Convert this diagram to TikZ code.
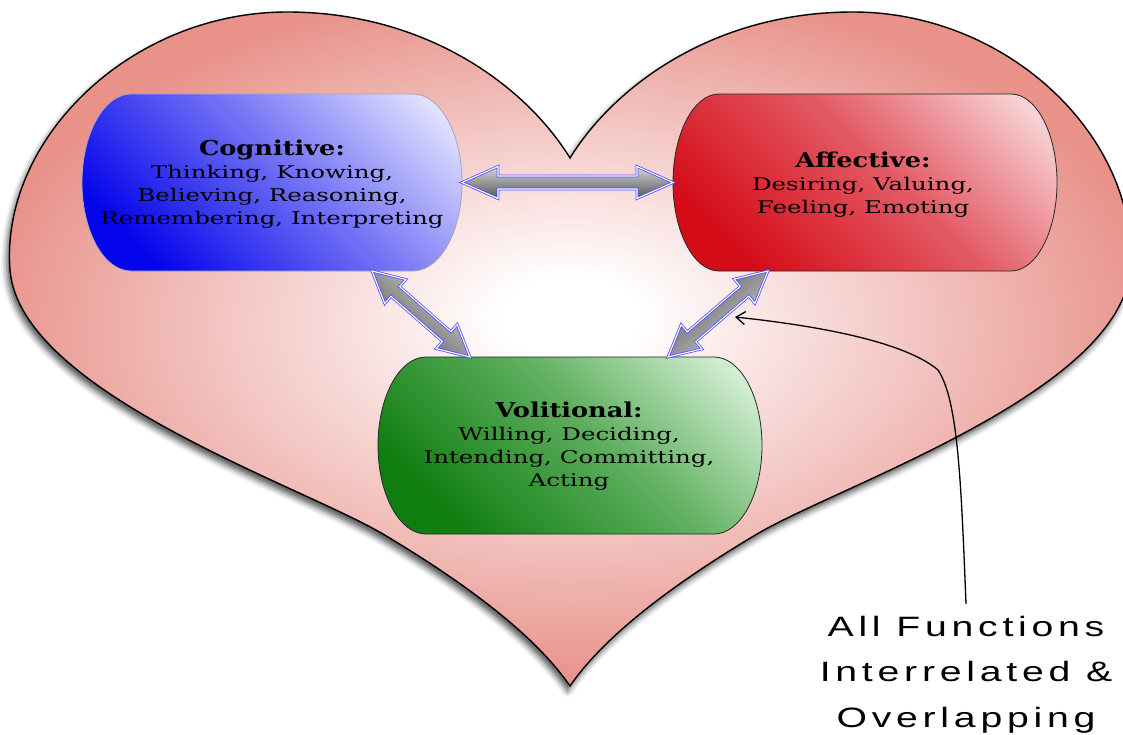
\documentclass[tikz,border=0pt]{standalone}
\usepackage{fontspec}
\newfontfamily\bodyfont[FakeStretch=1.4]{DejaVu Serif}
\newfontfamily\headfont[FakeStretch=1.25]{DejaVu Serif}
\newfontfamily\notefont[FakeStretch=1.4,LetterSpace=17]{Liberation Sans}
\usetikzlibrary{shadows.blur,arrows.meta,calc}
\definecolor{heartc}{RGB}{232,146,138}
\definecolor{heartmid}{RGB}{243,198,195}
\definecolor{cogdark}{RGB}{5,5,235}
\definecolor{cogmid}{RGB}{118,118,246}
\definecolor{coglight}{RGB}{232,232,255}
\definecolor{cogborder}{RGB}{165,165,185}
\definecolor{affdark}{RGB}{212,12,24}
\definecolor{affmid}{RGB}{228,92,102}
\definecolor{afflight}{RGB}{248,218,220}
\definecolor{voldark}{RGB}{15,125,15}
\definecolor{volmid}{RGB}{95,175,95}
\definecolor{vollight}{RGB}{218,242,218}
\definecolor{arrlight}{RGB}{215,215,215}
\definecolor{arrdark}{RGB}{85,85,85}
\definecolor{arrowblue}{RGB}{80,80,255}
\pgfdeclareradialshading{heartsh}{\pgfpoint{0bp}{2.5bp}}{color(0bp)=(white); color(3bp)=(white); color(15bp)=(heartmid); color(26bp)=(heartc); color(50bp)=(heartc)}
\pgfdeclareverticalshading{cogsh}{100bp}{color(0bp)=(cogdark); color(25bp)=(cogdark); color(55bp)=(cogmid); color(82bp)=(coglight); color(100bp)=(coglight)}
\pgfdeclareverticalshading{affsh}{100bp}{color(0bp)=(affdark); color(25bp)=(affdark); color(55bp)=(affmid); color(82bp)=(afflight); color(100bp)=(afflight)}
\pgfdeclareverticalshading{volsh}{100bp}{color(0bp)=(voldark); color(25bp)=(voldark); color(55bp)=(volmid); color(82bp)=(vollight); color(100bp)=(vollight)}
\newcommand{\stadium}[3]{%
  \path[#3] ($(#1.north west)+(#2,0)$) -- ($(#1.north east)+(-#2,0)$)
    arc[start angle=90,end angle=-90,x radius=#2,y radius=88.5]
    -- ($(#1.south west)+(#2,0)$)
    arc[start angle=270,end angle=90,x radius=#2,y radius=88.5] -- cycle;}
\newcommand{\dblarrow}[3]{%
  \path (#1); \pgfgetlastxy{\ax}{\ay}%
  \path (#2); \pgfgetlastxy{\bx}{\by}%
  \pgfmathsetmacro{\ang}{atan2(\by-\ay,\bx-\ax)}%
  \pgfmathsetmacro{\len}{veclen(\bx-\ax,\by-\ay)}%
  \pgfmathsetmacro{\hb}{\len-#3}%
  \begin{scope}[shift={(#1)},rotate=\ang]
  \path[blockarrow, top color=arrlight, bottom color=arrdark, shading angle=\ang]
    (0,0) -- (#3,16) -- (#3,6.5) -- (\hb,6.5) -- (\hb,16) -- (\len,0)
    -- (\hb,-16) -- (\hb,-6.5) -- (#3,-6.5) -- (#3,-16) -- cycle;
  \end{scope}}
\begin{document}
\begin{tikzpicture}[x=1pt,y=1pt,
  boxn/.style={inner sep=0pt, outer sep=0pt, minimum height=177pt},
  boxtext/.style={inner sep=0pt, anchor=base, font=\bodyfont\fontsize{17.5}{23.3}\selectfont},
  blockarrow/.style={draw=arrowblue, double=white, double distance=1.1pt, line width=0.8pt, line join=miter},
  heartline/.style={draw=black, line width=1.4pt},
  cogbox/.style={draw=cogborder, line width=0.8pt, shade, shading=cogsh, shading angle=-45},
  affbox/.style={draw=black!85, line width=0.8pt, shade, shading=affsh, shading angle=-45},
  volbox/.style={draw=black!85, line width=0.8pt, shade, shading=volsh, shading angle=-45},
  notetext/.style={inner sep=0pt, anchor=base, font=\notefont\fontsize{28}{45.5}\selectfont},
  noteline/.style={-{Straight Barb[length=9pt,width=13pt]}, line width=1.3pt}]
\useasboundingbox (0,0) rectangle (1123,-734);
% invisible frames of the three boxes
\node[boxn, minimum width=380pt] (cog) at (272,-182.5) {};
\node[boxn, minimum width=384pt] (aff) at (865,-182.5) {};
\node[boxn, minimum width=384pt] (vol) at (570,-445.5) {};
% heart
\path[heartline, shade, shading=heartsh,
      blur shadow={shadow xshift=-2.5pt, shadow yshift=-5pt, shadow blur radius=6pt, shadow opacity=70}]
  (570,-686) .. controls (537,-638) and (472,-587) .. (383,-534)
  .. controls (300,-485) and (20,-392) .. (10,-270)
  .. controls (0,-140) and (130,-12) .. (287,-12)
  .. controls (425,-12) and (525,-85) .. (570,-158)
  .. controls (615,-85) and (715,-12) .. (853,-12)
  .. controls (1010,-12) and (1140,-140) .. (1130,-270)
  .. controls (1120,-392) and (840,-485) .. (757,-534)
  .. controls (668,-587) and (603,-638) .. (570,-686) -- cycle;
% boxes
\stadium{cog}{49}{cogbox}
\stadium{aff}{46}{affbox}
\stadium{vol}{48}{volbox}
% texts
\node[boxtext] (cogtext) at (272,-155) {\begin{tabular}[t]{@{}c@{}}{\headfont\bfseries\fontsize{20.5}{23.3}\selectfont Cognitive:}\\Thinking, Knowing,\\Believing, Reasoning,\\Remembering, Interpreting\end{tabular}};
\node[boxtext] (afftext) at (863,-167) {\begin{tabular}[t]{@{}c@{}}{\headfont\bfseries\fontsize{20.5}{23.3}\selectfont Affective:}\\Desiring, Valuing,\\Feeling, Emoting\end{tabular}};
\node[boxtext] (voltext) at (569,-417) {\begin{tabular}[t]{@{}c@{}}{\headfont\bfseries\fontsize{20.5}{23.3}\selectfont Volitional:}\\Willing, Deciding,\\Intending, Committing,\\Acting\end{tabular}};
% block arrows between the boxes
\coordinate (hA) at (cog.east);
\coordinate (hB) at (aff.west);
\coordinate (lA) at ([xshift=100pt]cog.south);
\coordinate (lB) at ([xshift=-100pt]vol.north);
\coordinate (rA) at ([xshift=-97pt]aff.south);
\coordinate (rB) at ([xshift=98pt]vol.north);
\dblarrow{hA}{hB}{36}
\dblarrow{lA}{lB}{31}
\dblarrow{rA}{rB}{31}
% annotation
\node[notetext] (note) at (966,-636) {\begin{tabular}[t]{@{}c@{}}All Functions\\Interrelated \&\\Overlapping\end{tabular}};
\coordinate (tip) at (735,-317);
\draw[noteline] (note.north) .. controls (961,-480) and (958,-400) .. (938,-370)
  .. controls (905,-342) and (820,-326) .. (tip);
\end{tikzpicture}
\end{document}
